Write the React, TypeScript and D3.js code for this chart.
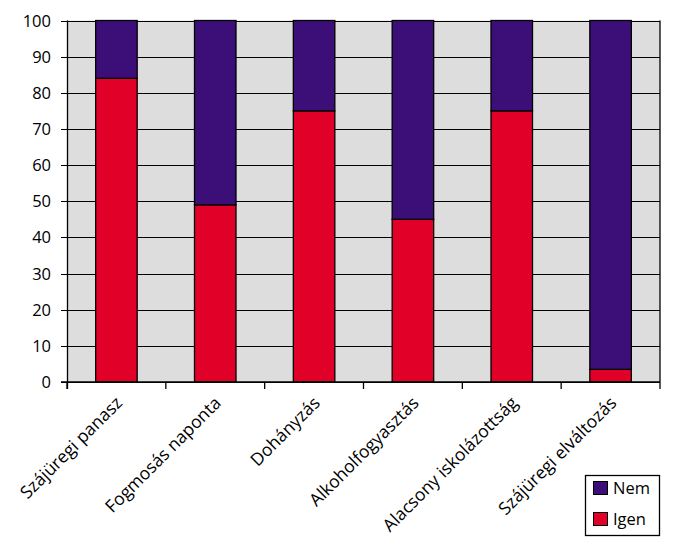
import React, { useEffect, useRef } from "react";
import * as d3 from "d3";

const categories = [
  "Szájüregi panasz",
  "Fogmosás naponta",
  "Dohányzás",
  "Alkoholfogyasztás",
  "Alacsony iskolázottság",
  "Szájüregi elváltozás",
];
const igenValues = [84, 49, 75, 45, 75, 3.5];
const nemValues = [16, 51, 25, 55, 25, 96.5];
const yTicks = [0, 10, 20, 30, 40, 50, 60, 70, 80, 90, 100];
const seriesNames = ["Nem", "Igen"];
const seriesColors = ["#3c0f78", "#e00028"];

const FONT = "'Open Sans', 'DejaVu Sans', sans-serif";

export default function App() {
  const ref = useRef<SVGSVGElement>(null);

  useEffect(() => {
    const svg = d3.select(ref.current);
    svg.selectAll("*").remove();

    const left = 67, right = 660, top = 20.5, bottom = 382;

    const x = d3.scaleBand<string>()
      .domain(categories)
      .range([left, right])
      .paddingInner(0.58)
      .paddingOuter(0.29);
    const y = d3.scaleLinear().domain([0, 100]).range([bottom, top]);

    // plot background
    svg.append("rect")
      .attr("x", left).attr("y", top)
      .attr("width", right - left).attr("height", bottom - top)
      .attr("fill", "#dddddd");

    // gridlines
    svg.selectAll(".grid")
      .data(yTicks)
      .enter()
      .append("line")
      .attr("x1", left).attr("x2", right)
      .attr("y1", d => Math.round(y(d)) + 0.5)
      .attr("y2", d => Math.round(y(d)) + 0.5)
      .attr("stroke", "#000").attr("stroke-width", 1);

    // stacked bars
    const rows = categories.map((c, i) => ({ cat: c, Igen: igenValues[i], Nem: nemValues[i] }));
    const stack = d3.stack<any>().keys(["Igen", "Nem"])(rows);
    const color: Record<string, string> = { Igen: seriesColors[1], Nem: seriesColors[0] };

    stack.forEach(layer => {
      svg.append("g")
        .selectAll("rect")
        .data(layer)
        .enter()
        .append("rect")
        .attr("x", d => x(d.data.cat)!)
        .attr("width", x.bandwidth())
        .attr("y", d => y(d[1]))
        .attr("height", d => y(d[0]) - y(d[1]))
        .attr("fill", color[layer.key])
        .attr("stroke", "#000")
        .attr("stroke-width", 1.3);
    });

    // axes frame
    svg.append("line")
      .attr("x1", left + 0.5).attr("x2", left + 0.5)
      .attr("y1", top).attr("y2", bottom + 7)
      .attr("stroke", "#000").attr("stroke-width", 1.3);
    svg.append("line")
      .attr("x1", right).attr("x2", right)
      .attr("y1", top).attr("y2", bottom + 7)
      .attr("stroke", "#000").attr("stroke-width", 1.3);
    svg.append("line")
      .attr("x1", left - 6).attr("x2", right)
      .attr("y1", bottom).attr("y2", bottom)
      .attr("stroke", "#000").attr("stroke-width", 1.3);

    // y ticks + labels
    svg.selectAll(".ytick")
      .data(yTicks)
      .enter()
      .append("line")
      .attr("x1", left - 6).attr("x2", left)
      .attr("y1", d => Math.round(y(d)) + 0.5)
      .attr("y2", d => Math.round(y(d)) + 0.5)
      .attr("stroke", "#000");
    svg.selectAll(".ylabel")
      .data(yTicks)
      .enter()
      .append("text")
      .attr("x", 51)
      .attr("y", d => y(d) + 6)
      .attr("text-anchor", "end")
      .style("font-family", FONT)
      .style("font-size", "16.5px")
      .attr("fill", "#000")
      .text(d => d);

    // x ticks at band boundaries
    const step = x.step();
    const boundaries = d3.range(categories.length).map(i => left + i * step);
    svg.selectAll(".xtick")
      .data(boundaries)
      .enter()
      .append("line")
      .attr("x1", d => d).attr("x2", d => d)
      .attr("y1", bottom).attr("y2", bottom + 7)
      .attr("stroke", "#000").attr("stroke-width", 1.3);

    // category labels
    svg.selectAll(".xlabel")
      .data(categories)
      .enter()
      .append("text")
      .attr("transform", d => `translate(${x(d)! + x.bandwidth() / 2 + 7},${bottom + 22}) rotate(-45)`)
      .attr("text-anchor", "end")
      .style("font-family", FONT)
      .style("font-size", "17.5px")
      .attr("fill", "#000")
      .text(d => d);

    // legend
    const lg = svg.append("g");
    lg.append("rect")
      .attr("x", 585.5).attr("y", 475.5)
      .attr("width", 74).attr("height", 60)
      .attr("fill", "#fff").attr("stroke", "#000").attr("stroke-width", 1.3);
    seriesNames.forEach((name, i) => {
      lg.append("rect")
        .attr("x", 593.5).attr("y", 481.5 + i * 31)
        .attr("width", 14).attr("height", 13)
        .attr("fill", seriesColors[i]).attr("stroke", "#000");
      lg.append("text")
        .attr("x", 613).attr("y", 494 + i * 31)
        .style("font-family", FONT)
        .style("font-size", "16.5px")
        .attr("fill", "#000")
        .text(name);
    });
  }, []);

  return (
    <div style={{ position: "absolute", left: 0, top: 0 }}>
      <svg ref={ref} width={682} height={553} style={{ display: "block", background: "#fff" }}></svg>
    </div>
  );
}
